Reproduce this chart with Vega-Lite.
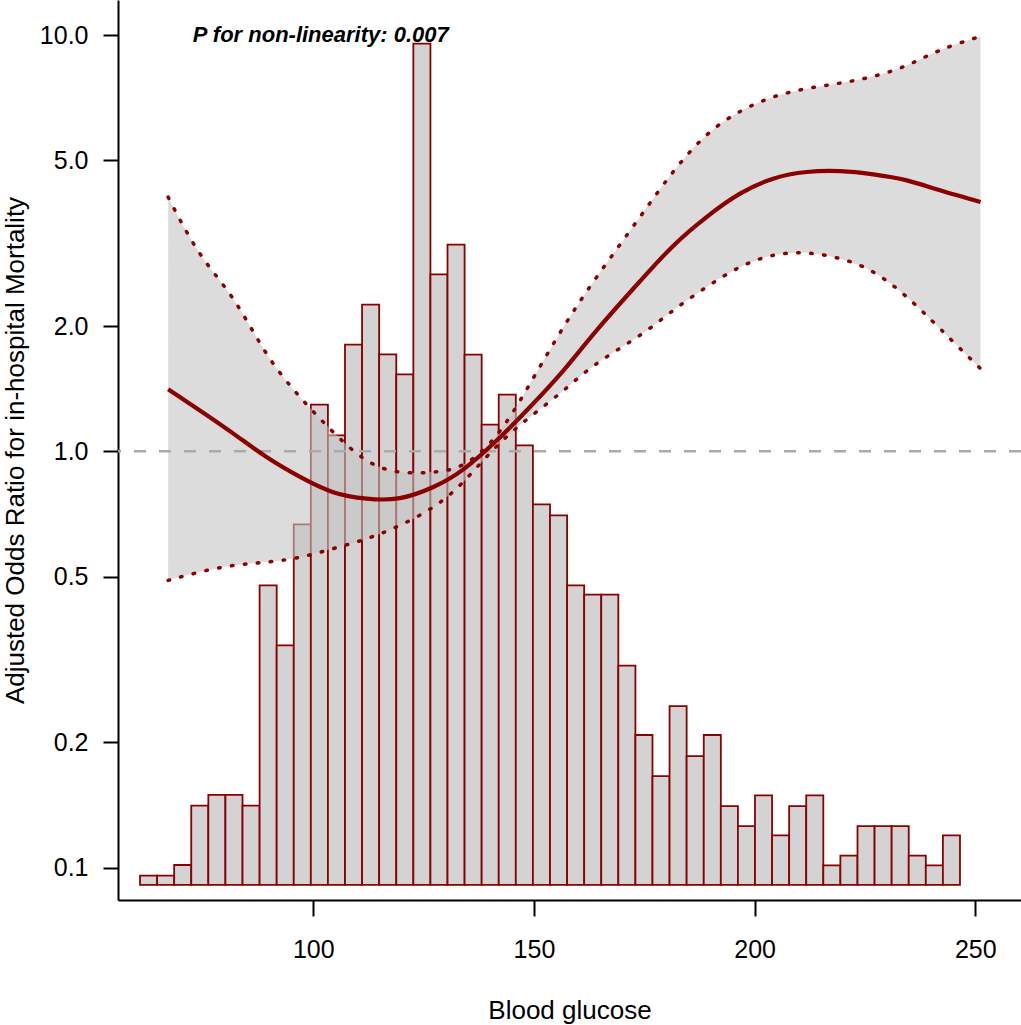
{
  "$schema": "https://vega.github.io/schema/vega-lite/v6.json",
  "width": 903,
  "height": 900,
  "autosize": {"type": "none"},
  "padding": {"left": 118, "top": 0, "right": 0, "bottom": 125},
  "background": "white",
  "config": {
    "font": "Liberation Sans",
    "view": {"stroke": null},
    "axis": {
      "grid": false,
      "domainColor": "black",
      "domainWidth": 2,
      "tickColor": "black",
      "tickWidth": 2,
      "tickSize": 15,
      "labelFont": "Liberation Sans",
      "labelFontSize": 25,
      "labelColor": "black",
      "titleFont": "Liberation Sans",
      "titleFontSize": 26,
      "titleFontWeight": "normal",
      "titleColor": "black",
      "labelOverlap": false,
      "labelFlush": false
    }
  },
  "datasets": {
    "bars": [
      {"x0": 60.73, "x1": 64.60, "top": 0.0957},
      {"x0": 64.60, "x1": 68.47, "top": 0.0957},
      {"x0": 68.47, "x1": 72.34, "top": 0.1015},
      {"x0": 72.34, "x1": 76.21, "top": 0.141},
      {"x0": 76.21, "x1": 80.08, "top": 0.1495},
      {"x0": 80.08, "x1": 83.96, "top": 0.1495},
      {"x0": 83.96, "x1": 87.83, "top": 0.141},
      {"x0": 87.83, "x1": 91.70, "top": 0.4766},
      {"x0": 91.70, "x1": 95.57, "top": 0.342},
      {"x0": 95.57, "x1": 99.44, "top": 0.668},
      {"x0": 99.44, "x1": 103.31, "top": 1.295},
      {"x0": 103.31, "x1": 107.18, "top": 1.092},
      {"x0": 107.18, "x1": 111.05, "top": 1.804},
      {"x0": 111.05, "x1": 114.92, "top": 2.251},
      {"x0": 114.92, "x1": 118.80, "top": 1.71},
      {"x0": 118.80, "x1": 122.67, "top": 1.531},
      {"x0": 122.67, "x1": 126.54, "top": 9.535},
      {"x0": 126.54, "x1": 130.41, "top": 2.662},
      {"x0": 130.41, "x1": 134.28, "top": 3.137},
      {"x0": 134.28, "x1": 138.15, "top": 1.707},
      {"x0": 138.15, "x1": 142.02, "top": 1.159},
      {"x0": 142.02, "x1": 145.89, "top": 1.368},
      {"x0": 145.89, "x1": 149.76, "top": 1.034},
      {"x0": 149.76, "x1": 153.64, "top": 0.746},
      {"x0": 153.64, "x1": 157.51, "top": 0.702},
      {"x0": 157.51, "x1": 161.38, "top": 0.4766},
      {"x0": 161.38, "x1": 165.25, "top": 0.4527},
      {"x0": 165.25, "x1": 169.12, "top": 0.4527},
      {"x0": 169.12, "x1": 172.99, "top": 0.3056},
      {"x0": 172.99, "x1": 176.86, "top": 0.2083},
      {"x0": 176.86, "x1": 180.73, "top": 0.166},
      {"x0": 180.73, "x1": 184.60, "top": 0.2445},
      {"x0": 184.60, "x1": 188.48, "top": 0.1854},
      {"x0": 188.48, "x1": 192.35, "top": 0.2083},
      {"x0": 192.35, "x1": 196.22, "top": 0.1406},
      {"x0": 196.22, "x1": 200.09, "top": 0.1259},
      {"x0": 200.09, "x1": 203.96, "top": 0.1492},
      {"x0": 203.96, "x1": 207.83, "top": 0.1196},
      {"x0": 207.83, "x1": 211.70, "top": 0.1406},
      {"x0": 211.70, "x1": 215.57, "top": 0.1492},
      {"x0": 215.57, "x1": 219.44, "top": 0.1013},
      {"x0": 219.44, "x1": 223.32, "top": 0.1069},
      {"x0": 223.32, "x1": 227.19, "top": 0.1259},
      {"x0": 227.19, "x1": 231.06, "top": 0.1259},
      {"x0": 231.06, "x1": 234.93, "top": 0.1259},
      {"x0": 234.93, "x1": 238.80, "top": 0.1069},
      {"x0": 238.80, "x1": 242.67, "top": 0.1013},
      {"x0": 242.67, "x1": 246.54, "top": 0.1196}
    ],
    "curve": [
      {"x": 67.1, "est": 1.41, "lo": 0.49, "hi": 4.08},
      {"x": 74.3, "est": 1.254, "lo": 0.513, "hi": 2.985},
      {"x": 81.9, "est": 1.103, "lo": 0.532, "hi": 2.32},
      {"x": 89.4, "est": 0.969, "lo": 0.542, "hi": 1.717},
      {"x": 97.0, "est": 0.868, "lo": 0.557, "hi": 1.35},
      {"x": 104.5, "est": 0.798, "lo": 0.584, "hi": 1.113},
      {"x": 112.1, "est": 0.77, "lo": 0.617, "hi": 0.951},
      {"x": 119.6, "est": 0.772, "lo": 0.664, "hi": 0.892},
      {"x": 127.2, "est": 0.821, "lo": 0.735, "hi": 0.892},
      {"x": 134.0, "est": 0.905, "lo": 0.845, "hi": 0.93},
      {"x": 141.6, "est": 1.063, "lo": 1.03, "hi": 1.095},
      {"x": 149.1, "est": 1.278, "lo": 1.209, "hi": 1.454},
      {"x": 156.7, "est": 1.565, "lo": 1.401, "hi": 1.989},
      {"x": 164.2, "est": 1.953, "lo": 1.624, "hi": 2.62},
      {"x": 174.0, "est": 2.56, "lo": 1.9, "hi": 3.654},
      {"x": 181.6, "est": 3.12, "lo": 2.182, "hi": 4.7},
      {"x": 189.1, "est": 3.654, "lo": 2.481, "hi": 5.75},
      {"x": 196.7, "est": 4.159, "lo": 2.771, "hi": 6.55},
      {"x": 204.2, "est": 4.519, "lo": 2.957, "hi": 7.099},
      {"x": 211.8, "est": 4.688, "lo": 2.995, "hi": 7.435},
      {"x": 219.4, "est": 4.71, "lo": 2.903, "hi": 7.668},
      {"x": 226.9, "est": 4.628, "lo": 2.696, "hi": 7.959},
      {"x": 234.5, "est": 4.477, "lo": 2.348, "hi": 8.458},
      {"x": 242.0, "est": 4.236, "lo": 1.971, "hi": 9.19},
      {"x": 251.2, "est": 3.97, "lo": 1.58, "hi": 9.93}
    ]
  },
  "layer": [
    {
      "data": {"name": "bars"},
      "mark": {"type": "rect", "fill": "#D3D3D3", "stroke": "#8B0000", "strokeWidth": 1.8},
      "encoding": {
        "x": {"field": "x0", "type": "quantitative", "title": "Blood glucose",
              "scale": {"domain": [55.74, 260.37], "nice": false, "zero": false},
              "axis": {"values": [100, 150, 200, 250], "format": "d", "labelPadding": 21, "titlePadding": 35, "tickSize": 16}},
        "x2": {"field": "x1"},
        "y": {"field": "top", "type": "quantitative", "title": "Adjusted Odds Ratio for in-hospital Mortality",
              "scale": {"type": "log", "domain": [0.08363, 12.14], "nice": false, "zero": false},
              "axis": {"values": [0.1, 0.2, 0.5, 1, 2, 5, 10], "format": ".1f", "labelPadding": 15, "titlePadding": 11}},
        "y2": {"datum": 0.0909}
      }
    },
    {
      "data": {"name": "curve"},
      "mark": {"type": "area", "fill": "#C4C4C4", "opacity": 0.6, "interpolate": "natural"},
      "encoding": {
        "x": {"field": "x", "type": "quantitative", "title": "Blood glucose"},
        "y": {"field": "lo", "type": "quantitative", "title": "Adjusted Odds Ratio for in-hospital Mortality"},
        "y2": {"field": "hi"}
      }
    },
    {
      "data": {"values": [{}]},
      "mark": {"type": "rule", "color": "#AAAAAA", "strokeWidth": 2.5, "strokeDash": [12, 13]},
      "encoding": {
        "y": {"datum": 1, "type": "quantitative", "title": "Adjusted Odds Ratio for in-hospital Mortality"}
      }
    },
    {
      "data": {"name": "curve"},
      "mark": {"type": "line", "color": "#8B0000", "strokeWidth": 4.2, "interpolate": "natural"},
      "encoding": {
        "x": {"field": "x", "type": "quantitative", "title": "Blood glucose"},
        "y": {"field": "est", "type": "quantitative", "title": "Adjusted Odds Ratio for in-hospital Mortality"}
      }
    },
    {
      "data": {"name": "curve"},
      "mark": {"type": "line", "color": "#8B0000", "strokeWidth": 3.5, "strokeDash": [1.5, 11.5], "strokeCap": "round", "interpolate": "natural"},
      "encoding": {
        "x": {"field": "x", "type": "quantitative", "title": "Blood glucose"},
        "y": {"field": "lo", "type": "quantitative", "title": "Adjusted Odds Ratio for in-hospital Mortality"}
      }
    },
    {
      "data": {"name": "curve"},
      "mark": {"type": "line", "color": "#8B0000", "strokeWidth": 3.5, "strokeDash": [1.5, 11.5], "strokeCap": "round", "interpolate": "natural"},
      "encoding": {
        "x": {"field": "x", "type": "quantitative", "title": "Blood glucose"},
        "y": {"field": "hi", "type": "quantitative", "title": "Adjusted Odds Ratio for in-hospital Mortality"}
      }
    },
    {
      "data": {"values": [{}]},
      "mark": {"type": "text", "text": "P for non-linearity: 0.007", "font": "Liberation Sans", "fontSize": 22, "fontWeight": "bold", "fontStyle": "italic", "align": "left", "baseline": "alphabetic", "color": "black"},
      "encoding": {
        "x": {"datum": 72.7, "type": "quantitative", "title": "Blood glucose"},
        "y": {"datum": 9.6, "type": "quantitative", "title": "Adjusted Odds Ratio for in-hospital Mortality"}
      }
    }
  ]
}
